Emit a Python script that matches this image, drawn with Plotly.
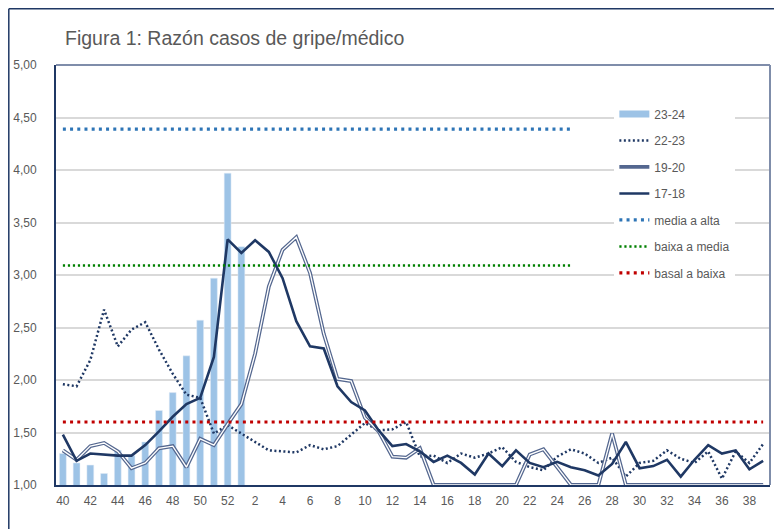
import plotly.graph_objects as go

weeks = ["40", "41", "42", "43", "44", "45", "46", "47", "48", "49", "50", "51", "52",
         "1", "2", "3", "4", "5", "6", "7", "8", "9", "10", "11", "12", "13", "14",
         "15", "16", "17", "18", "19", "20", "21", "22", "23", "24", "25", "26", "27",
         "28", "29", "30", "31", "32", "33", "34", "35", "36", "37", "38", "39"]

tick_labels = ["40", "42", "44", "46", "48", "50", "52", "2", "4", "6", "8", "10", "12",
               "14", "16", "18", "20", "22", "24", "26", "28", "30", "32", "34", "36", "38"]

s23_24 = [1.30, 1.21, 1.19, 1.11, 1.33, 1.28, 1.41, 1.71, 1.88, 2.23, 2.57, 2.97, 3.97,
          3.27] + [None] * 38

s22_23 = [1.96, 1.94, 2.19, 2.67, 2.32, 2.48, 2.55, 2.29, 2.06, 1.86, 1.83, 1.49, 1.57,
          1.49, 1.41, 1.33, 1.32, 1.31, 1.38, 1.34, 1.37, 1.48, 1.59, 1.52, 1.53, 1.60, 1.27,
          1.28, 1.21, 1.30, 1.26, 1.30, 1.36, 1.22, 1.17, 1.14, 1.27, 1.34, 1.30, 1.21,
          1.26, 1.08, 1.21, 1.23, 1.33, 1.25, 1.21, 1.32, 1.06, 1.32, 1.21, 1.39]

s19_20 = [1.33, 1.24, 1.37, 1.40, 1.32, 1.16, 1.21, 1.35, 1.37, 1.17, 1.44, 1.38, 1.58,
          1.77, 2.25, 2.89, 3.24, 3.36, 3.02, 2.44, 2.01, 1.99, 1.64, 1.51, 1.27, 1.26, 1.35,
          1.00, 1.00, 1.00, 1.00, 1.00, 1.00, 1.00, 1.29, 1.34, 1.17, 1.00, 1.00, 1.00,
          1.49, 1.00, 1.00, 1.00, 1.00, 1.00, 1.00, 1.00, 1.00, 1.00, 1.00, 1.00]

s17_18 = [1.48, 1.23, 1.30, 1.29, 1.28, 1.28, 1.38, 1.51, 1.65, 1.77, 1.83, 2.22, 3.34,
          3.21, 3.33, 3.22, 2.97, 2.56, 2.32, 2.30, 1.94, 1.79, 1.71, 1.52, 1.37, 1.39, 1.32,
          1.22, 1.28, 1.21, 1.10, 1.30, 1.18, 1.33, 1.21, 1.17, 1.22, 1.17, 1.14, 1.09,
          1.20, 1.41, 1.16, 1.18, 1.24, 1.08, 1.24, 1.38, 1.30, 1.33, 1.15, 1.23]

threshold_names = ["media a alta", "baixa a media", "basal a baixa"]
threshold_values = [4.39, 3.09, 1.60]
threshold_last_week = ["25", "25", "39"]

NAVY = "#1F3864"
TXT = "#595959"
FONT = "Liberation Sans"

# page body has an 8px margin: figure is sized/offset to fill the 782x529 window
W, H = 774, 521
L, T, PW, PH = 48, 57, 714, 420

fig = go.Figure()

fig.add_trace(go.Bar(x=weeks, y=s23_24, marker_color="#9DC3E6", showlegend=False,
                     name="23-24", hoverinfo="x+y"))
fig.add_trace(go.Scatter(x=[None], y=[None], mode="lines", name="23-24",
                         legendgroup="g1", line=dict(color="#9DC3E6", width=7)))

fig.add_trace(go.Scatter(x=weeks, y=s22_23, mode="lines", name="22-23", legendgroup="g2",
                         line=dict(color=NAVY, width=2.5, dash="2px,2.5px")))

fig.add_trace(go.Scatter(x=weeks, y=s19_20, mode="lines", name="19-20", legendgroup="g3",
                         line=dict(color="#54678F", width=3.8)))
fig.add_trace(go.Scatter(x=weeks, y=s19_20, mode="lines", name="19-20", legendgroup="g3",
                         showlegend=False, line=dict(color="#FFFFFF", width=1.3)))

fig.add_trace(go.Scatter(x=weeks, y=s17_18, mode="lines", name="17-18", legendgroup="g4",
                         line=dict(color=NAVY, width=2.6)))

th_styles = [dict(color="#2E75B6", width=3.2, dash="3px,4.2px"),
             dict(color="#008000", width=2.4, dash="2.2px,2.8px"),
             dict(color="#C00000", width=3.2, dash="3px,4.2px")]
for i, (nm, val, last) in enumerate(zip(threshold_names, threshold_values, threshold_last_week)):
    fig.add_trace(go.Scatter(x=[weeks[0], last], y=[val, val], mode="lines", name=nm,
                             legendgroup="g%d" % (5 + i), line=th_styles[i]))

# plot-area top/right border and outer chart border (top + left edges)
border = "#7F8DAA"
fig.add_shape(type="line", xref="paper", yref="paper", x0=0, x1=1, y0=1, y1=1,
              line=dict(color=border, width=2))
fig.add_shape(type="line", xref="paper", yref="paper", x0=1, x1=1, y0=0, y1=1,
              line=dict(color=border, width=2))
ox = (0.8 - L) / PW
oy = (T + PH - 0.8) / PH
fig.add_shape(type="line", xref="paper", yref="paper", x0=ox, x1=1.2, y0=oy, y1=oy,
              line=dict(color=NAVY, width=1.5))
fig.add_shape(type="line", xref="paper", yref="paper", x0=ox, x1=ox, y0=-0.3, y1=oy,
              line=dict(color=NAVY, width=1.5))

fig.update_layout(
    width=W, height=H,
    margin=dict(l=L, r=W - L - PW, t=T, b=H - T - PH, autoexpand=False),
    paper_bgcolor="white", plot_bgcolor="white",
    separators=",.",
    font=dict(family=FONT, size=12, color=TXT),
    title=dict(text="Figura 1: Razón casos de gripe/médico", x=57 / W, xanchor="left",
               xref="container", y=1 - 30 / H, yanchor="middle",
               font=dict(family=FONT, size=19.5, color=TXT)),
    bargap=0.5,
    showlegend=True,
    legend=dict(x=0.782, y=0.918, xanchor="left", yanchor="top", bgcolor="white",
                traceorder="grouped", tracegroupgap=7.5,
                font=dict(family=FONT, size=12, color=TXT)),
    xaxis=dict(type="category", categoryorder="array", categoryarray=weeks,
               tickmode="array", tickvals=tick_labels, ticktext=tick_labels,
               showgrid=False, showline=True, linecolor=NAVY, linewidth=2,
               ticks="", ticklabelstandoff=4, automargin=False,
               tickfont=dict(family=FONT, size=12, color=TXT),
               range=[-0.5, len(weeks) - 0.5]),
    yaxis=dict(range=[1, 5], tick0=1, dtick=0.5, tickformat=".2f",
               showgrid=True, gridcolor="#D9D9D9", gridwidth=1.5,
               showline=True, linecolor=NAVY, linewidth=2, zeroline=False,
               ticks="", ticklabelstandoff=15, automargin=False,
               tickfont=dict(family=FONT, size=12, color=TXT)),
)

fig.write_html("out.html")
